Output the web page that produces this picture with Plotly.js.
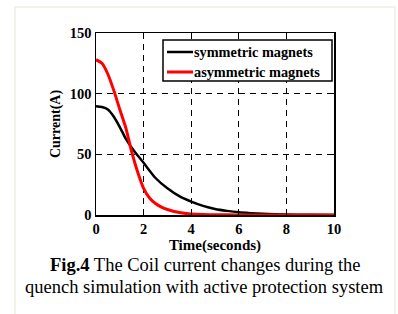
<!DOCTYPE html>
<html>
<head>
<meta charset="utf-8">
<script src="https://cdn.plot.ly/plotly-3.0.1.min.js"></script>
<style>html,body{margin:0;padding:0;background:#fff;}#chart{width:398px;height:314px;}</style>
</head>
<body>
<div id="chart"></div>
<script>
// Data
const timeSym = [0,0.25,0.5,0.75,1,1.25,1.5,1.75,2,2.5,3,3.5,4,4.5,5,5.5,6,6.5,7,8,9,10];
const currentSym = [89.7,89,87,81,72.5,63,55.5,49,43,30.5,22,15.5,11,7.5,5,3.4,2.2,1.5,1,0.4,0.2,0.1];
const timeAsym = [0,0.25,0.5,0.75,1,1.25,1.5,1.75,2,2.25,2.5,2.75,3,3.5,4,4.5,5,6,7,8,9,10];
const currentAsym = [128,125,116,102.5,87,72,52,35.5,22,14,9.5,6.5,4.5,2,0.8,0.4,0.2,0.1,0.05,0,0,0];
const seriesNames = ["symmetric magnets", "asymmetric magnets"];
const seriesColors = ["#000000", "#ff0000"];
const xTicks = [0,2,4,6,8,10];
const yTicks = [0,50,100,150];

const serif = "Liberation Serif, Times New Roman, serif";
const traces = [
  {x: timeSym, y: currentSym, name: seriesNames[0], type: "scatter", mode: "lines",
   line: {color: seriesColors[0], width: 2.5, shape: "spline", smoothing: 0.6}},
  {x: timeAsym, y: currentAsym, name: seriesNames[1], type: "scatter", mode: "lines",
   line: {color: seriesColors[1], width: 3, shape: "spline", smoothing: 0.6}}
];

// plot area: x 96..334 px, y 33..215 px
const W = 238, H = 182, L = 96, T = 33;
const px = v => (v - L) / W;
const py = v => (T + H - v) / H;

const frame = "#eeede3";
const shapes = [
  {type: "line", xref: "paper", yref: "paper", x0: px(15), x1: px(395), y0: py(7), y1: py(7), line: {color: frame, width: 1.5}, layer: "below"},
  {type: "line", xref: "paper", yref: "paper", x0: px(15), x1: px(15), y0: py(7), y1: py(330), line: {color: frame, width: 1.5}, layer: "below"},
  {type: "line", xref: "paper", yref: "paper", x0: px(395), x1: px(395), y0: py(7), y1: py(330), line: {color: frame, width: 1.5}, layer: "below"},
  // legend box
  {type: "rect", xref: "paper", yref: "paper", x0: px(163), x1: px(332), y0: py(40), y1: py(81),
   fillcolor: "#ffffff", line: {color: "#000", width: 1.5}, layer: "above"}
];
const annotations = [
  {xref: "paper", yref: "paper", x: 0.46, y: py(265), xanchor: "center", yanchor: "middle", showarrow: false,
   text: "<b>Fig.4</b> The Coil current changes during the", font: {family: serif, size: 18.5, color: "#000"}},
  {xref: "paper", yref: "paper", x: 0.455, y: py(287), xanchor: "center", yanchor: "middle", showarrow: false,
   text: "quench simulation with active protection system", font: {family: serif, size: 18.5, color: "#000"}}
];
const legendY = [52, 72];
seriesNames.forEach((n, i) => {
  shapes.push({type: "line", xref: "paper", yref: "paper", x0: px(167), x1: px(193), y0: py(legendY[i]), y1: py(legendY[i]),
    line: {color: seriesColors[i], width: i === 1 ? 3 : 2.5}, layer: "above"});
  annotations.push({xref: "paper", yref: "paper", x: px(192), y: py(legendY[i]), xanchor: "left", yanchor: "middle",
    showarrow: false, text: "<b>" + n + "</b>", font: {family: serif, size: 14.3, color: "#000"}});
});

const layout = {
  width: 398, height: 314,
  margin: {l: 96, r: 64, t: 33, b: 99},
  paper_bgcolor: "#ffffff", plot_bgcolor: "#ffffff",
  font: {family: serif, color: "#000"},
  showlegend: false,
  xaxis: {range: [0, 10], tickvals: xTicks, ticktext: xTicks.map(String),
    showline: true, linecolor: "#000", linewidth: 1.5, mirror: "ticks",
    ticks: "inside", ticklen: 5, tickcolor: "#000", tickwidth: 1,
    showgrid: true, gridcolor: "#000", gridwidth: 1, griddash: "6px,5px",
    zeroline: false, ticklabelstandoff: 0,
    tickfont: {family: serif, size: 14.5, weight: "bold", color: "#000"},
    title: {text: "Time(seconds)", standoff: 2, font: {family: serif, size: 15, weight: "bold", color: "#000"}}},
  yaxis: {range: [0, 150], tickvals: yTicks, ticktext: yTicks.map(String),
    showline: true, linecolor: "#000", linewidth: 1.5, mirror: "ticks",
    ticks: "inside", ticklen: 5, tickcolor: "#000", tickwidth: 1,
    showgrid: true, gridcolor: "#000", gridwidth: 1, griddash: "6px,5px",
    zeroline: false,
    tickfont: {family: serif, size: 14.5, weight: "bold", color: "#000"},
    title: {text: "Current(A)", standoff: 6, font: {family: serif, size: 14, weight: "bold", color: "#000"}}},
  shapes: shapes,
  annotations: annotations
};

Plotly.newPlot("chart", traces, layout, {displayModeBar: false, staticPlot: true});
</script>
</body>
</html>
